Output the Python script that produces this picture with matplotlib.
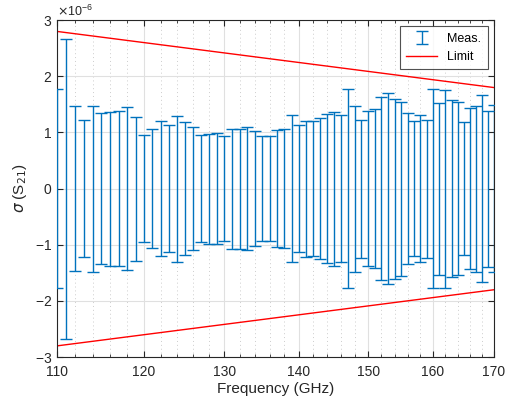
import numpy as np
import matplotlib.pyplot as plt
from matplotlib.ticker import FixedLocator, NullFormatter, FixedFormatter, ScalarFormatter

plt.rcParams['font.family'] = ['Liberation Sans', 'DejaVu Sans']
plt.rcParams['mathtext.fontset'] = 'dejavusans'

# measured points, 1 GHz step
freq = np.arange(110, 171)
sigma = np.array([1.77, 2.67, 1.47, 1.22, 1.48, 1.34, 1.37, 1.38, 1.45, 1.28,   # 110-119
                  0.95, 1.06, 1.20, 1.13, 1.30, 1.19, 1.10, 0.95, 0.98, 0.99,   # 120-129
                  0.93, 1.07, 1.07, 1.09, 1.02, 0.93, 0.94, 1.04, 1.06, 1.31,   # 130-139
                  1.13, 1.21, 1.20, 1.25, 1.33, 1.37, 1.31, 1.77, 1.48, 1.23,   # 140-149
                  1.38, 1.42, 1.63, 1.70, 1.60, 1.55, 1.35, 1.20, 1.31, 1.23,   # 150-159
                  1.77, 1.53, 1.76, 1.57, 1.54, 1.18, 1.43, 1.48, 1.67, 1.39,   # 160-169
                  1.49]) * 1e-6                                                  # 170

lim_freq = [110, 170]
lim_val = [2.8e-6, 1.8e-6]

xticks = [110, 120, 130, 140, 150, 160, 170]
xminor = [f for f in range(112, 170, 2) if f % 10 != 0]

fig = plt.figure(figsize=(5.15, 4.11), dpi=100)
ax = fig.add_axes([0.110, 0.131, 0.849, 0.820])

eb = ax.errorbar(freq, np.zeros(len(freq)), yerr=sigma, fmt='none', ecolor='#0072BD',
                 elinewidth=1.0, capsize=4, capthick=1.0, label='Meas.', zorder=3)
ln, = ax.plot(lim_freq, lim_val, color='#FF0000', lw=1.0, label='Limit')
ax.plot(lim_freq, [-v for v in lim_val], color='#FF0000', lw=1.0)

ax.set_xscale('log')
ax.set_xlim(110, 170)
ax.set_ylim(-3e-6, 3e-6)
ax.xaxis.set_major_locator(FixedLocator(xticks))
ax.xaxis.set_major_formatter(FixedFormatter([str(t) for t in xticks]))
ax.xaxis.set_minor_locator(FixedLocator(xminor))
ax.xaxis.set_minor_formatter(NullFormatter())
ax.set_yticks(np.arange(-3, 4) * 1e-6)
fmt = ScalarFormatter(useMathText=True)
fmt.set_powerlimits((0, 0))
ax.yaxis.set_major_formatter(fmt)

gc = '#262626'
ax.grid(which='major', color='#e0e0e0', lw=0.8)
ax.grid(which='minor', axis='x', color='#cccccc', lw=0.7, ls=(0, (1, 3)))
ax.set_axisbelow(True)
ax.tick_params(which='both', direction='in', top=True, right=True, colors=gc, labelsize=10)
ax.tick_params(which='major', length=4)
ax.tick_params(which='minor', length=2)
ax.tick_params(axis='x', which='major', pad=6)
for s in ax.spines.values():
    s.set_color(gc)
    s.set_linewidth(0.8)
ax.yaxis.get_offset_text().set_color(gc)
ax.yaxis.get_offset_text().set_fontsize(9)

ax.set_xlabel('Frequency (GHz)', fontsize=11, color=gc, labelpad=2)
ax.set_ylabel(r'$\sigma$ (S$_{21}$)', fontsize=11, color=gc)

leg = ax.legend([eb, ln], ['Meas.', 'Limit'], loc='upper right', fancybox=False,
                edgecolor='#262626', fontsize=9, borderpad=0.5, handlelength=2.5)
leg.get_frame().set_linewidth(0.8)

fig.savefig('out.png', dpi=100)
